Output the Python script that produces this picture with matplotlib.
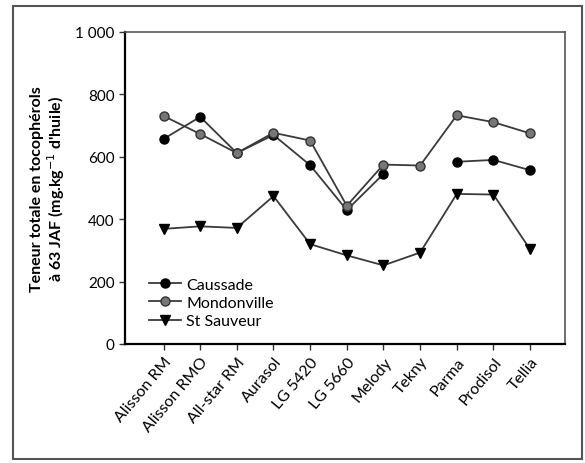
import numpy as np
import matplotlib
matplotlib.use("Agg")
from matplotlib import pyplot as plt
from matplotlib.patches import Rectangle

plt.rcParams['font.family'] = ['Lato', 'DejaVu Sans']

varieties = ["Alisson RM", "Alisson RMO", "All-star RM", "Aurasol", "LG 5420",
             "LG 5660", "Melody", "Tekny", "Parma", "Prodisol", "Tellia"]
caussade = [657, 728, 612, 670, 573, 429, 545, np.nan, 584, 590, 557]
mondonville = [731, 673, 612, 677, 652, 443, 575, 572, 733, 711, 675]
st_sauveur = [369, 377, 372, 474, 320, 284, 252, 293, 481, 479, 303]
yticks = [0, 200, 400, 600, 800, 1000]
yticklabels = ["0", "200", "400", "600", "800", "1 000"]

fig = plt.figure(figsize=(5.85, 4.64), dpi=100)
ax = fig.add_axes([0.2137, 0.2565, 0.752, 0.6724])

x = np.arange(len(varieties))
line_color = "#3a3a3a"
ax.plot(x, caussade, "-o", color=line_color, mfc="black", mec="black", ms=6.5, lw=1.3, label="Caussade")
ax.plot(x, mondonville, "-o", color=line_color, mfc="#777777", mec="#333333", ms=6.5, lw=1.3, label="Mondonville")
ax.plot(x, st_sauveur, "-v", color=line_color, mfc="black", mec="black", ms=7, lw=1.3, label="St Sauveur")

ax.set_xlim(-1.05, 10.95)
ax.set_ylim(0, 1000)
ax.set_yticks(yticks)
ax.set_yticklabels(yticklabels, fontsize=11)
ax.set_xticks(x)
ax.set_xticklabels(varieties, rotation=50, ha="right", va="top", rotation_mode="anchor", fontsize=11.5)
ax.tick_params(direction="out", length=4, width=1, color="#333333")
for side in ["left", "bottom"]:
    ax.spines[side].set_linewidth(1.6)
for side in ["top", "right"]:
    ax.spines[side].set_linewidth(1.2)
    ax.spines[side].set_color("#555555")

ax.set_ylabel("Teneur totale en tocophérols\nà 63 JAF (mg.kg$^{-1}$ d'huile)", fontsize=11.5,
              fontweight="bold", labelpad=6, linespacing=1.05)

ax.legend(loc="lower left", bbox_to_anchor=(0.03, 0.015), frameon=False, fontsize=11.5,
          handlelength=2.0, labelspacing=0.25, handletextpad=0.3, borderaxespad=0.3)

fig.patches.append(Rectangle((13 / 585, 1 - 460 / 464), 569 / 585, 453 / 464,
                             transform=fig.transFigure, fill=False, lw=1.5, ec="#555555"))

fig.savefig("out.png", dpi=100)
